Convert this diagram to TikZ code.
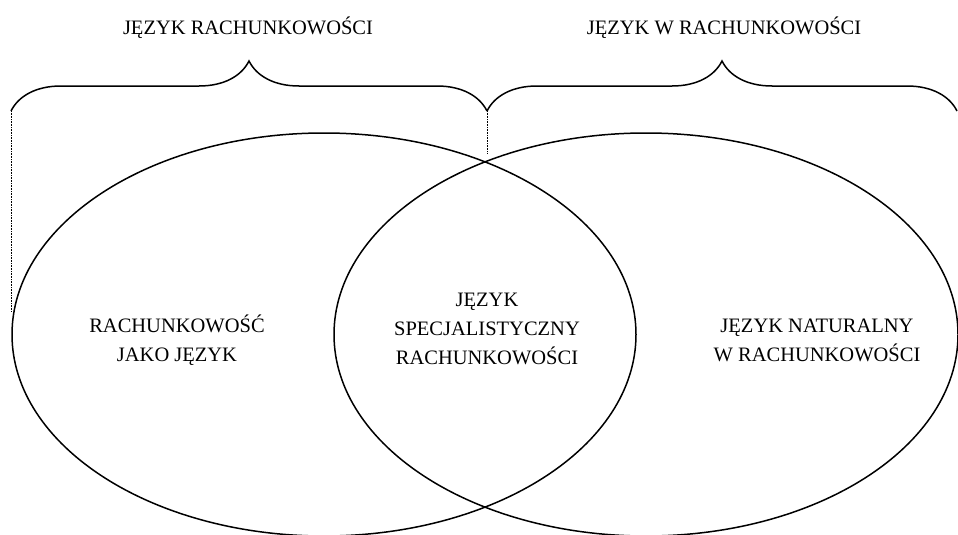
\documentclass[tikz,border=0pt]{standalone}
\usepackage{fontspec}
\setmainfont{Liberation Serif}
\usepackage{tikz}
\usetikzlibrary{decorations.pathreplacing}

\begin{document}
\begin{tikzpicture}[x=1pt,y=-1pt,
  label/.style={align=center,font=\fontsize{20.5}{29}\selectfont},
  bracket/.style={line width=1.5pt,decorate,decoration={brace,amplitude=50pt}},
  guide/.style={line width=.6pt,densely dotted}]
\useasboundingbox (0,0) rectangle (958,535);
\draw[line width=1.5pt] (324,334.5) ellipse[x radius=312,y radius=201.5];
\draw[line width=1.5pt] (646,334.5) ellipse[x radius=312,y radius=201.5];
\coordinate (bl) at (11,111);
\coordinate (bm) at (487,111);
\coordinate (br) at (957,111);
\coordinate (dl) at (11,312);
\coordinate (dm) at (487,153);
\draw[bracket] (bl)--(bm);
\draw[bracket] (bm)--(br);
\draw[guide] (bl)--(dl);
\draw[guide] (bm)--(dm);
\node[label] (jr) at (248,28) {JĘZYK RACHUNKOWOŚCI};
\node[label] (jwr) at (724,28) {JĘZYK W RACHUNKOWOŚCI};
\node[label] (rj) at (177,340) {RACHUNKOWOŚĆ\\JAKO JĘZYK};
\node[label] (jsr) at (487,329) {JĘZYK\\SPECJALISTYCZNY\\RACHUNKOWOŚCI};
\node[label] (jnr) at (817,340) {JĘZYK NATURALNY\\W RACHUNKOWOŚCI}; %
\end{tikzpicture}
\end{document}
